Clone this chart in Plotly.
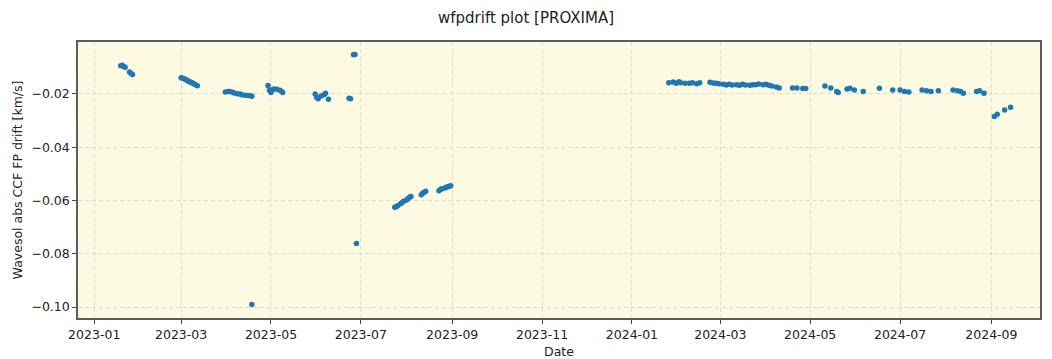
import plotly.graph_objects as go

# Observation dates and wavesol FP drift values [km/s]
dates_2023 = [
    "2023-01-19", "2023-01-20", "2023-01-21", "2023-01-22",
    "2023-01-25", "2023-01-26", "2023-01-27",
    "2023-03-01", "2023-03-02", "2023-03-03", "2023-03-04", "2023-03-05", "2023-03-06",
    "2023-03-07", "2023-03-08", "2023-03-09", "2023-03-10", "2023-03-11", "2023-03-12",
    "2023-03-31", "2023-04-02", "2023-04-03", "2023-04-05", "2023-04-06", "2023-04-08",
    "2023-04-10", "2023-04-11", "2023-04-13", "2023-04-15", "2023-04-17", "2023-04-18",
    "2023-04-18",
    "2023-04-29", "2023-04-30", "2023-05-01", "2023-05-02", "2023-05-03", "2023-05-05",
    "2023-05-07", "2023-05-08", "2023-05-09",
    "2023-05-31", "2023-06-01", "2023-06-02", "2023-06-04", "2023-06-06", "2023-06-07",
    "2023-06-09",
    "2023-06-23", "2023-06-24", "2023-06-26", "2023-06-27", "2023-06-28",
    "2023-07-24", "2023-07-25", "2023-07-26", "2023-07-28", "2023-07-29", "2023-07-30",
    "2023-08-01", "2023-08-02", "2023-08-03", "2023-08-04",
    "2023-08-11", "2023-08-12", "2023-08-13", "2023-08-14",
    "2023-08-23", "2023-08-24", "2023-08-25", "2023-08-27", "2023-08-28", "2023-08-29",
    "2023-08-30", "2023-08-31",
]
drift_2023 = [
    -0.0094, -0.0092, -0.0097, -0.0100,
    -0.0118, -0.0123, -0.0127,
    -0.0139, -0.0141, -0.0143, -0.0146, -0.0149, -0.0152,
    -0.0155, -0.0157, -0.0160, -0.0163, -0.0166, -0.0169,
    -0.0193, -0.0191, -0.0191, -0.0194, -0.0196, -0.0199,
    -0.0200, -0.0203, -0.0205, -0.0206, -0.0207, -0.0209,
    -0.0990,
    -0.0168, -0.0186, -0.0195, -0.0184, -0.0181, -0.0182,
    -0.0186, -0.0190, -0.0195,
    -0.0200, -0.0212, -0.0218, -0.0208, -0.0203, -0.0197,
    -0.0220,
    -0.0216, -0.0218, -0.0053, -0.0052, -0.0761,
    -0.0625, -0.0623, -0.0620, -0.0612, -0.0607, -0.0603,
    -0.0598, -0.0593, -0.0588, -0.0585,
    -0.0578, -0.0573, -0.0569, -0.0565,
    -0.0563, -0.0559, -0.0556, -0.0553, -0.0550, -0.0548,
    -0.0546, -0.0545,
]

dates_2024 = [
    "2024-01-26", "2024-01-29", "2024-01-31", "2024-02-02", "2024-02-03", "2024-02-06",
    "2024-02-09", "2024-02-11", "2024-02-14", "2024-02-16",
    "2024-02-23", "2024-02-25", "2024-02-27", "2024-02-29", "2024-03-03", "2024-03-05",
    "2024-03-07", "2024-03-09", "2024-03-12", "2024-03-14", "2024-03-16", "2024-03-18",
    "2024-03-21", "2024-03-23", "2024-03-25", "2024-03-27", "2024-03-30", "2024-04-01",
    "2024-04-03", "2024-04-05", "2024-04-08", "2024-04-10",
    "2024-04-19", "2024-04-22", "2024-04-26", "2024-04-28",
    "2024-05-11", "2024-05-15", "2024-05-19", "2024-05-20",
    "2024-05-26", "2024-05-28", "2024-05-31", "2024-06-06",
    "2024-06-17",
    "2024-06-26", "2024-07-01", "2024-07-04", "2024-07-07",
    "2024-07-16", "2024-07-19", "2024-07-22", "2024-07-27",
    "2024-08-06", "2024-08-09", "2024-08-11", "2024-08-13",
    "2024-08-22", "2024-08-24", "2024-08-27",
    "2024-09-03", "2024-09-05", "2024-09-10", "2024-09-14",
]
drift_2024 = [
    -0.0158, -0.0155, -0.0160, -0.0154, -0.0158, -0.0160,
    -0.0160, -0.0158, -0.0162, -0.0158,
    -0.0156, -0.0159, -0.0160, -0.0162, -0.0164, -0.0166,
    -0.0164, -0.0166, -0.0165, -0.0167, -0.0164, -0.0166,
    -0.0167, -0.0165, -0.0165, -0.0163, -0.0165, -0.0164,
    -0.0167, -0.0170, -0.0174, -0.0178,
    -0.0178, -0.0178, -0.0180, -0.0180,
    -0.0170, -0.0178, -0.0191, -0.0195,
    -0.0181, -0.0179, -0.0185, -0.0191,
    -0.0179,
    -0.0185, -0.0185, -0.0191, -0.0193,
    -0.0185, -0.0188, -0.0191, -0.0188,
    -0.0185, -0.0188, -0.0191, -0.0197,
    -0.0191, -0.0188, -0.0197,
    -0.0285, -0.0276, -0.0260, -0.0250,
]

dates = dates_2023 + dates_2024
drift = drift_2023 + drift_2024

fig = go.Figure(
    go.Scatter(
        x=dates,
        y=drift,
        mode="markers",
        marker=dict(color="#1f77b4", size=5.5, line=dict(width=0)),
        showlegend=False,
    )
)

grid = dict(showgrid=True, gridcolor="#dedcd0", griddash="4px,3px", gridwidth=1)
frame = dict(showline=True, linecolor="#5c5c5c", linewidth=1.5, mirror=True,
             ticks="outside", ticklen=4, tickcolor="#444444", zeroline=False,
             automargin=False)

fig.update_layout(
    width=1052,
    height=359,
    margin=dict(l=78, r=12, t=42, b=41),
    paper_bgcolor="white",
    plot_bgcolor="#fcfae0",
    font=dict(family="DejaVu Sans", size=12.5, color="#222222"),
    title=dict(text="wfpdrift plot [PROXIMA]", x=0.5, xref="container", xanchor="center",
               y=0.95, yref="container", yanchor="middle",
               font=dict(size=15, family="DejaVu Sans", color="#222222")),
    xaxis=dict(
        type="date",
        range=["2022-12-21", "2024-10-04"],
        dtick="M2",
        tick0="2023-01-01",
        tickformat="%Y-%m",
        title=dict(text="Date", standoff=6, font=dict(size=12.5)),
        **grid, **frame,
    ),
    yaxis=dict(
        range=[-0.1041, -0.0005],
        dtick=0.02,
        tick0=0,
        tickformat=".2f",
        title=dict(text="Wavesol abs CCF FP drift [km/s]", standoff=6, font=dict(size=12.5)),
        **grid, **frame,
    ),
)

fig.write_html("out.html")
